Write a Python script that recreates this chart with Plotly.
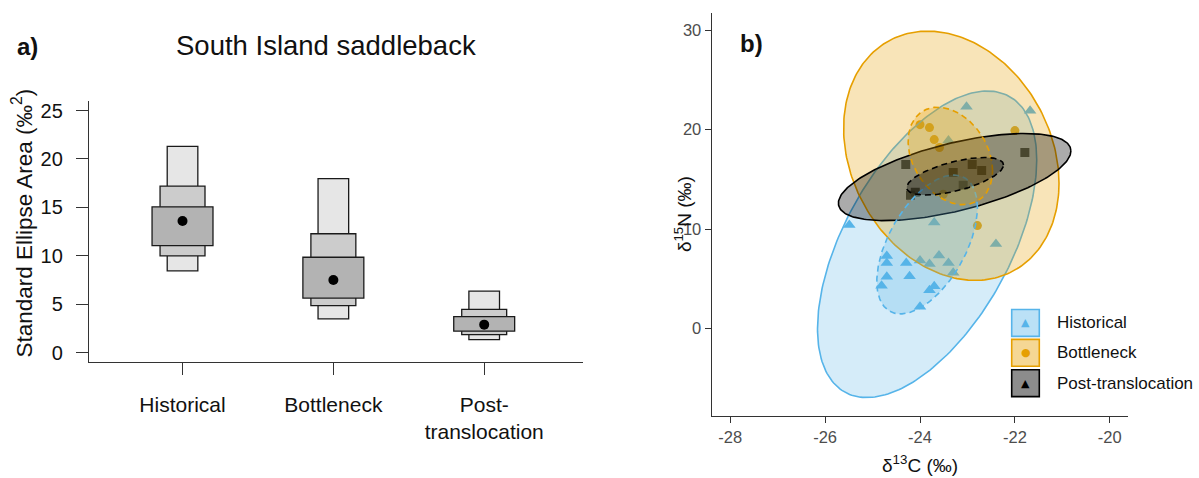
import numpy as np
import plotly.graph_objects as go

# ---------------- Panel a data: SEA_B credible intervals ----------------
groups = ["Historical", "Bottleneck", "Post-<br>translocation"]
cred95_low = [8.44, 3.47, 1.34]
cred95_high = [21.3, 17.97, 6.34]
cred75_low = [9.98, 4.84, 1.85]
cred75_high = [17.2, 12.27, 4.46]
cred50_low = [11.04, 5.62, 2.20]
cred50_high = [15.05, 9.84, 3.70]
sea_mode = [13.58, 7.50, 2.88]
sea_ticks = [0, 5, 10, 15, 20, 25]

# ---------------- Panel b data: isotope values ----------------
hist_d13c = [-23.02, -21.68, -23.40, -25.49, -23.70, -22.40, -24.70, -24.70, -24.29, -24.00,
             -23.80, -23.60, -23.40, -23.30, -24.70, -24.22, -24.81, -23.70, -23.80, -24.00]
hist_d15n = [22.3, 21.9, 18.9, 10.4, 10.65, 8.5, 7.3, 6.6, 6.6, 6.85,
             6.5, 7.35, 6.6, 5.6, 5.2, 5.25, 4.3, 4.25, 3.85, 2.2]
bott_d13c = [-24.00, -23.80, -22.00, -23.70, -23.59, -23.51, -22.79]
bott_d15n = [20.5, 20.2, 19.9, 19.0, 18.2, 13.5, 10.35]
post_d13c = [-24.30, -21.79, -23.30, -22.90, -22.70, -23.09, -24.10, -24.20]
post_d15n = [16.5, 17.7, 15.7, 16.5, 15.9, 14.4, 13.7, 13.4]

# ellipse parameters: centre x, centre y, half-width x, half-height y, correlation
ell_names = ["Historical", "Bottleneck", "Post-translocation"]
ell95_cx = [-23.85, -23.34, -23.27]
ell95_cy = [8.47, 17.37, 15.23]
ell95_hx = [2.31, 2.27, 2.45]
ell95_hy = [15.41, 12.53, 4.38]
ell95_rho = [0.55, -0.22, 0.60]
sea_cx = [-23.85, -23.36, -23.26]
sea_cy = [8.45, 17.35, 15.31]
sea_hx = [1.06, 0.89, 1.02]
sea_hy = [6.98, 4.90, 1.89]
sea_rho = [0.53, -0.30, 0.60]
d13c_ticks = [-28, -26, -24, -22, -20]
d15n_ticks = [0, 10, 20, 30]

# ---------------- styles ----------------
W, H = 1199, 478
FONT = "Liberation Sans, Arial, sans-serif"
line_cols = ["#56B4E9", "#E69F00", "#000000"]
fill_cols = ["rgba(86,180,233,0.25)", "rgba(230,159,0,0.28)", "rgba(0,0,0,0.33)"]
leg_fill = ["rgba(86,180,233,0.40)", "rgba(230,159,0,0.42)", "rgba(0,0,0,0.45)"]

def px(x):
    return x / W

def py(y):
    return 1 - y / H

fig = go.Figure()

# ---- panel a boxes ----
xpos = np.arange(1, len(groups) + 1)
for lo, hi, w, col in [(cred95_low, cred95_high, 0.203, "#e6e6e6"),
                       (cred75_low, cred75_high, 0.298, "#cccccc"),
                       (cred50_low, cred50_high, 0.404, "#b3b3b3")]:
    lo = np.array(lo); hi = np.array(hi)
    fig.add_trace(go.Bar(x=xpos, y=hi - lo, base=lo, width=w,
                         marker=dict(color=col, line=dict(color="#1a1a1a", width=1.3)),
                         xaxis="x", yaxis="y", hoverinfo="skip"))
fig.add_trace(go.Scatter(x=xpos, y=sea_mode, mode="markers",
                         marker=dict(color="black", size=10), xaxis="x", yaxis="y"))

# ---- panel b points (drawn under the ellipses) ----
fig.add_trace(go.Scatter(x=hist_d13c, y=hist_d15n, mode="markers",
                         marker=dict(symbol="triangle-up", size=11, color=line_cols[0]),
                         xaxis="x2", yaxis="y2"))
fig.add_trace(go.Scatter(x=bott_d13c, y=bott_d15n, mode="markers",
                         marker=dict(symbol="circle", size=9, color=line_cols[1]),
                         xaxis="x2", yaxis="y2"))
fig.add_trace(go.Scatter(x=post_d13c, y=post_d15n, mode="markers",
                         marker=dict(symbol="square", size=9, color="rgba(20,20,20,0.85)"),
                         xaxis="x2", yaxis="y2"))

# ---- ellipses ----
t = np.linspace(0, 2 * np.pi, 241)

def ellipse(cx, cy, hx, hy, rho):
    phi = np.arccos(rho)
    return cx + hx * np.cos(t), cy + hy * np.cos(t - phi)

for i in range(3):
    ex, ey = ellipse(ell95_cx[i], ell95_cy[i], ell95_hx[i], ell95_hy[i], ell95_rho[i])
    fig.add_trace(go.Scatter(x=ex, y=ey, mode="lines", fill="toself", fillcolor=fill_cols[i],
                             line=dict(color=line_cols[i], width=1.6), xaxis="x2", yaxis="y2",
                             hoverinfo="skip"))
for i in range(3):
    ex, ey = ellipse(sea_cx[i], sea_cy[i], sea_hx[i], sea_hy[i], sea_rho[i])
    fig.add_trace(go.Scatter(x=ex, y=ey, mode="lines", fill="toself", fillcolor=fill_cols[i],
                             line=dict(color=line_cols[i], width=1.6, dash="6px,4px"),
                             xaxis="x2", yaxis="y2", hoverinfo="skip"))

# ---- layout ----
axis_common = dict(showgrid=False, zeroline=False, showline=True, ticks="outside")
fig.update_layout(
    width=W, height=H, margin=dict(l=0, r=0, t=0, b=0),
    paper_bgcolor="white", plot_bgcolor="white", showlegend=False, barmode="overlay",
    font=dict(family=FONT, color="#111111"),
    xaxis=dict(**axis_common, domain=[px(89), px(583)], range=[0.38, 3.655],
               tickvals=list(xpos), ticktext=groups, ticklen=12, tickcolor="#333333",
               linecolor="#333333", linewidth=1.3, tickwidth=1.3,
               tickfont=dict(size=21, color="#111111"), ticklabelstandoff=11, anchor="y"),
    yaxis=dict(**axis_common, domain=[py(362.7), py(100.3)], range=[-1, 26],
               tickvals=sea_ticks, ticklen=12, tickcolor="#333333",
               linecolor="#333333", linewidth=1.3, tickwidth=1.3,
               tickfont=dict(size=20, color="#111111"), ticklabelstandoff=9, anchor="x"),
    xaxis2=dict(**axis_common, domain=[px(711.7), px(1128.3)], range=[-28.39, -19.61],
                tickvals=d13c_ticks, ticktext=[str(v) for v in d13c_ticks], ticklen=6,
                tickcolor="#333333", linecolor="#333333", linewidth=1.3, tickwidth=1.1,
                tickfont=dict(size=16.5, color="#4d4d4d"), anchor="y2"),
    yaxis2=dict(**axis_common, domain=[py(416.7), py(11.7)], range=[-8.79, 31.76],
                tickvals=d15n_ticks, ticklen=6, tickcolor="#333333",
                linecolor="#333333", linewidth=1.3, tickwidth=1.1,
                tickfont=dict(size=16.5, color="#4d4d4d"), anchor="x2"),
)

ann = []
ann.append(dict(x=px(27), y=py(46), text="<b>a)</b>", font=dict(size=24, color="#111")))
ann.append(dict(x=px(326), y=py(45), text="South Island saddleback", font=dict(size=27.5, color="#111")))
ann.append(dict(x=px(22), y=py(223.5), text="Standard Ellipse Area (‰<sup>2</sup>)", textangle=-90,
                font=dict(size=22.5, color="#111")))
ann.append(dict(x=px(751), y=py(43), text="<b>b)</b>", font=dict(size=24, color="#111")))
ann.append(dict(x=px(920), y=py(465), text="δ<sup>13</sup>C (‰)", font=dict(size=19, color="#111")))
ann.append(dict(x=px(683), y=py(214), text="δ<sup>15</sup>N (‰)", textangle=-90,
                font=dict(size=19, color="#111")))

# ---- legend (drawn manually) ----
leg_rows = [323.3, 353.3, 383.8]
leg_sym = ["▲", "●", "▲"]
leg_sym_col = [line_cols[0], line_cols[1], "#000000"]
shapes = []
for i, name in enumerate(ell_names):
    yc = leg_rows[i]
    shapes.append(dict(type="rect", xref="paper", yref="paper",
                       x0=px(1011.7), x1=px(1039.3), y0=py(yc + 13.5), y1=py(yc - 13.5),
                       fillcolor=leg_fill[i], line=dict(color=line_cols[i], width=1.6)))
    ann.append(dict(x=px(1025.5), y=py(yc), text=leg_sym[i],
                    font=dict(size=11, color=leg_sym_col[i], family="DejaVu Sans")))
    ann.append(dict(x=px(1055), y=py(yc), text=name, xanchor="left",
                    font=dict(size=17, color="#111")))

for a in ann:
    a.setdefault("xref", "paper")
    a.setdefault("yref", "paper")
    a.setdefault("showarrow", False)
    a.setdefault("xanchor", "center")
    a.setdefault("yanchor", "middle")
fig.update_layout(annotations=ann, shapes=shapes)

fig.write_html("out.html")
